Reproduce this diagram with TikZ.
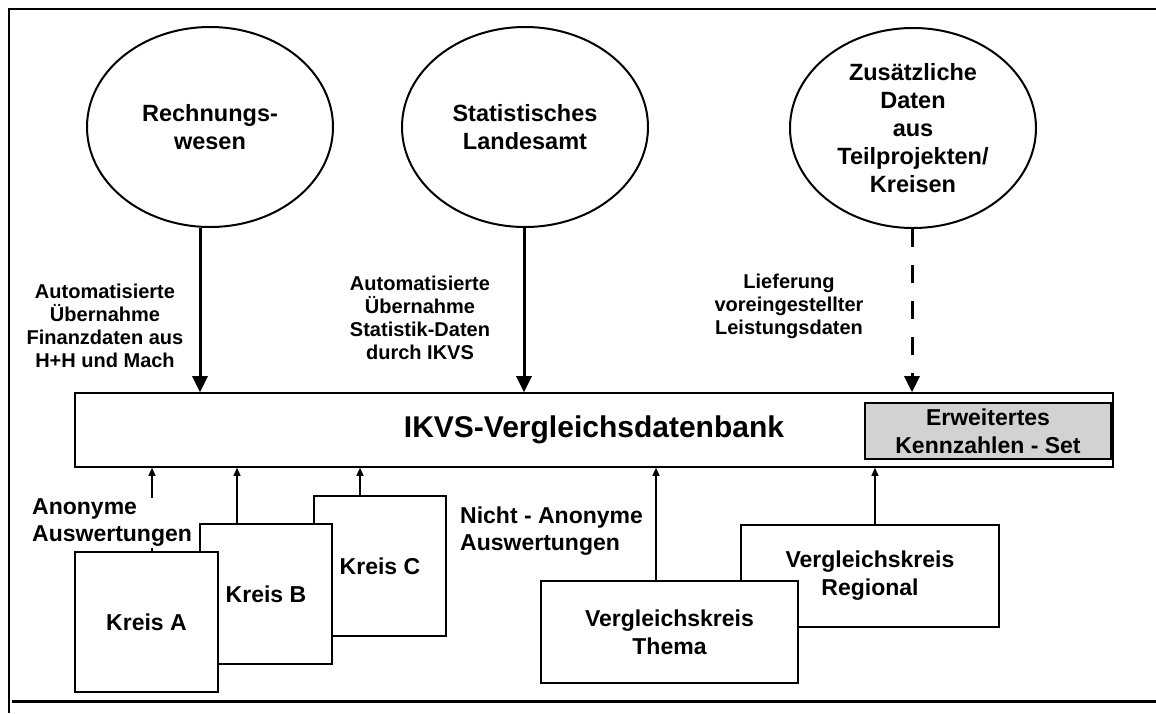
\documentclass[tikz,border=0pt]{standalone}
\usepackage{fontspec}
\setmainfont{Liberation Sans}
\usetikzlibrary{arrows.meta,shapes.geometric}
\begin{document}
\begin{tikzpicture}[x=1pt,y=-1pt,
  src/.style={ellipse, draw, line width=2pt, minimum width=246pt, minimum height=200pt,
    inner sep=0pt, align=center, font=\fontsize{23.5}{28}\selectfont\bfseries},
  box/.style={draw, line width=1.6pt, fill=white, align=center, inner sep=0pt,
    font=\fontsize{23}{28}\selectfont\bfseries},
  lbl/.style={align=center, font=\fontsize{20}{23}\selectfont\bfseries},
  side/.style={align=left, anchor=west, inner sep=1pt, font=\fontsize{23}{27}\selectfont\bfseries},
  bigarrow/.style={line width=3pt, -{Triangle[length=16pt,width=15pt]}},
  smallarrow/.style={line width=1.3pt, -{Triangle[length=8pt,width=7pt]}}]
\useasboundingbox (0,0) rectangle (1156,713);

% frame
\draw[line width=2.2pt] (1156,9) -- (9,9) -- (9,713);
\draw[line width=3pt] (12,701) -- (1156,701);

% sources
\node[src] (e1) at (210,127) {Rechnungs-\\wesen};
\node[src] (e2) at (525,127) {Statistisches\\Landesamt};
\node[src] (e3) at (913,128) {Zusätzliche\\Daten\\aus\\Teilprojekten/\\Kreisen};

% database
\node[draw, line width=1.6pt, minimum width=1038pt, minimum height=74pt, inner sep=0pt,
  font=\fontsize{30}{36}\selectfont\bfseries] (db) at (594,430) {IKVS-Vergleichsdatenbank};
\node[draw, line width=1.4pt, fill=gray!35, minimum width=246pt, minimum height=56pt,
  inner sep=0pt, align=center, font=\fontsize{23}{28}\selectfont\bfseries] (ks) at (988,431)
  {Erweitertes\\Kennzahlen - Set};

% top arrows
\coordinate (x1) at (200,0);
\coordinate (x2) at (524,0);
\coordinate (x3) at (912,0);
\draw[bigarrow] (e1.south -| x1) -- (db.north -| x1);
\draw[bigarrow] (e2.south -| x2) -- (db.north -| x2);
\draw[bigarrow, dash pattern=on 18pt off 18pt] (e3.south -| x3) -- (db.north -| x3);

\node[lbl] (l1) at (105,326) {Automatisierte\\Übernahme\\Finanzdaten aus\\H+H und Mach};
\node[lbl] (l2) at (420,318) {Automatisierte\\Übernahme\\Statistik-Daten\\durch IKVS};
\node[lbl] (l3) at (789,306) {Lieferung\\voreingestellter\\Leistungsdaten};

% Kreise
\node[box, minimum width=132pt, minimum height=140pt] (kc) at (380,566) {Kreis C};
\node[box, minimum width=132pt, minimum height=140pt] (kb) at (266,594) {Kreis B};
\node[box, minimum width=143pt, minimum height=140pt] (ka) at (146.5,622) {Kreis A};

% Vergleichskreise
\node[box, minimum width=258pt, minimum height=102pt] (vr) at (870,576) {Vergleichskreis\\Regional};
\node[box, minimum width=257pt, minimum height=102pt] (vt) at (669.5,632) {Vergleichskreis\\Thema};

% bottom arrows
\coordinate (xa) at (152,0);
\coordinate (xb) at (237,0);
\coordinate (xc) at (360,0);
\coordinate (xt) at (656,0);
\coordinate (xr) at (875,0);
\draw[smallarrow] (ka.north -| xa) -- (db.south -| xa);
\draw[smallarrow] (kb.north -| xb) -- (db.south -| xb);
\draw[smallarrow] (kc.north -| xc) -- (db.south -| xc);
\draw[smallarrow] (vt.north -| xt) -- (db.south -| xt);
\draw[smallarrow] (vr.north -| xr) -- (db.south -| xr);

% side labels
\node[side, fill=white] (anon) at (31,523) {Anonyme\\Auswertungen};
\node[side] (nanon) at (459,531) {Nicht - Anonyme\\Auswertungen};
\end{tikzpicture}
\end{document}
